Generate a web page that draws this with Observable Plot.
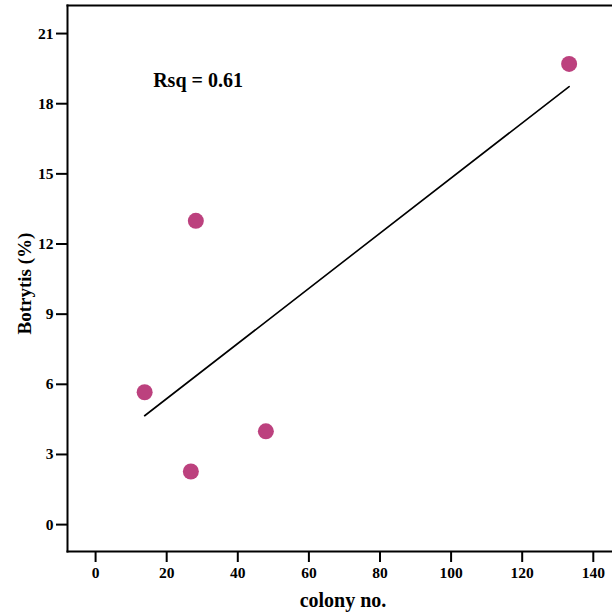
<!DOCTYPE html>
<html>
<head>
<meta charset="utf-8">
<script src="https://cdn.jsdelivr.net/npm/d3@7"></script>
<script src="https://cdn.jsdelivr.net/npm/@observablehq/plot@0.6"></script>
<style>
  html, body { margin: 0; padding: 0; background: #fff; }
  #chart svg g[aria-label="x-axis tick label"],
  #chart svg g[aria-label="y-axis tick label"] { font-size: 15.5px; font-weight: bold; }
</style>
</head>
<body>
<div id="chart"></div>
<script>
const colonyNo = [13.8, 26.8, 28.2, 47.9, 133.2];
const botrytis = [5.66, 2.27, 12.99, 3.99, 19.7];
const xTicks = [0, 20, 40, 60, 80, 100, 120, 140];
const yTicks = [0, 3, 6, 9, 12, 15, 18, 21];
const rsqLabel = "Rsq = 0.61";
const xLabel = "colony no.";
const yLabel = "Botrytis (%)";

const data = colonyNo.map((c, i) => ({x: c, y: botrytis[i]}));

const font = "'Liberation Serif', 'Times New Roman', serif";

const chart = Plot.plot({
  width: 612,
  height: 613,
  marginLeft: 67,
  marginRight: 0,
  marginTop: 5,
  marginBottom: 62,
  style: {fontFamily: font, fontSize: "15px", fontWeight: "bold", color: "#000", background: "#fff"},
  x: {domain: [-7.9, 145.4], ticks: xTicks},
  y: {domain: [-1.15, 22.2], ticks: yTicks},
  marks: [
    Plot.axisX({ticks: xTicks, tickSize: 11, tickPadding: 4, strokeWidth: 2, label: null, fontWeight: "bold"}),
    Plot.axisY({ticks: yTicks, tickSize: 11, tickPadding: 3, strokeWidth: 2, label: null, fontWeight: "bold"}),
    Plot.frame({anchor: "top", strokeWidth: 2}),
    Plot.frame({anchor: "left", strokeWidth: 2}),
    Plot.frame({anchor: "bottom", strokeWidth: 2}),
    Plot.linearRegressionY(data, {x: "x", y: "y", ci: 0, stroke: "black", strokeWidth: 1.6}),
    Plot.dot(data, {x: "x", y: "y", r: 8, fill: "#bc417e", stroke: "none"}),
    Plot.text([rsqLabel], {x: 16.2, y: 19.0, text: d => d, textAnchor: "start", lineAnchor: "middle", fontSize: 20, fontWeight: "bold", fill: "black"}),
    Plot.text([xLabel], {frameAnchor: "bottom", text: d => d, textAnchor: "middle", lineAnchor: "middle", dy: 49, dx: 3, fontSize: 20, fontWeight: "bold", fill: "black"}),
    Plot.text([yLabel], {frameAnchor: "left", text: d => d, textAnchor: "middle", lineAnchor: "middle", rotate: -90, dx: -43, dy: 5, fontSize: 19, fontWeight: "bold", fill: "black"})
  ]
});
document.getElementById("chart").appendChild(chart);
</script>
</body>
</html>
